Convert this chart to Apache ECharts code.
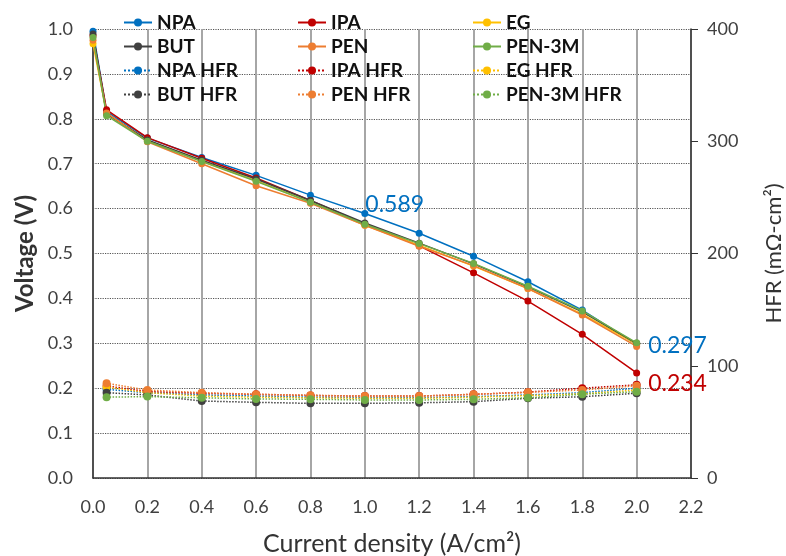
<!DOCTYPE html>
<html lang="en">

<head>
  <meta charset="UTF-8">
  <title>Polarization and HFR</title>
  <style>
    * {
      margin: 0;
      padding: 0;
      box-sizing: border-box;
    }

    body {
      background-color: #fff;
    }

    .chart {
      width: 786px;
      height: 556px;
    }
  </style>
</head>

<body>
  <div id="chart" class="chart"></div>
  <script src="https://cdn.jsdelivr.net/npm/echarts@6/dist/echarts.min.js"></script>
  <script>
    // current density (A/cm2)
    const currentDensity = [0, 0.05, 0.2, 0.4, 0.6, 0.8, 1.0, 1.2, 1.4, 1.6, 1.8, 2.0]
    const hfrDensity = [0.05, 0.2, 0.4, 0.6, 0.8, 1.0, 1.2, 1.4, 1.6, 1.8, 2.0]

    // voltage (V)
    const npaV = [0.995, 0.816, 0.757, 0.714, 0.674, 0.630, 0.589, 0.545, 0.494, 0.437, 0.374, 0.297]
    const ipaV = [0.985, 0.820, 0.758, 0.712, 0.668, 0.618, 0.566, 0.517, 0.457, 0.394, 0.320, 0.234]
    const egV = [0.967, 0.812, 0.752, 0.706, 0.662, 0.615, 0.563, 0.518, 0.472, 0.422, 0.365, 0.298]
    const butV = [0.989, 0.811, 0.753, 0.708, 0.666, 0.618, 0.568, 0.523, 0.477, 0.426, 0.370, 0.300]
    const penV = [0.975, 0.813, 0.749, 0.700, 0.651, 0.612, 0.563, 0.516, 0.473, 0.422, 0.363, 0.293]
    const pen3mV = [0.981, 0.807, 0.750, 0.705, 0.661, 0.614, 0.565, 0.522, 0.478, 0.427, 0.372, 0.301]

    // HFR (mOhm-cm2)
    const npaHfr = [79, 76, 74, 73, 72, 71.5, 71.5, 72.5, 74, 76, 80]
    const ipaHfr = [82, 77, 75.5, 74.5, 73.5, 73, 73, 74.5, 76.5, 80, 83]
    const egHfr = [81, 76, 73, 72, 71.5, 71, 71, 72, 73.5, 75, 78.4]
    const butHfr = [76, 74, 68.6, 67.4, 66.5, 66.5, 67, 68, 71, 72.4, 75.5]
    const penHfr = [84.4, 78.4, 76, 74.6, 73.7, 73, 73, 74.6, 76.3, 78.4, 82.2]
    const pen3mHfr = [72, 72.5, 71.5, 70.4, 70.1, 69.5, 69.5, 70.1, 71.5, 74.6, 76.9]

    const names = ['NPA', 'IPA', 'EG', 'BUT', 'PEN', 'PEN-3M']
    const colors = ['#0070C0', '#C00000', '#FFC000', '#404040', '#ED7D31', '#70AD47']
    const voltages = [npaV, ipaV, egV, butV, penV, pen3mV]
    const hfrs = [npaHfr, ipaHfr, egHfr, butHfr, penHfr, pen3mHfr]

    const font = 'Lato, "Open Sans", sans-serif'

    // labels shown on a few points
    const callouts = [
      { series: 'NPA', x: 1.0, color: '#0070C0', offset: [-5, -9] },
      { series: 'NPA', x: 2.0, color: '#0070C0', offset: [6, 1] },
      { series: 'IPA', x: 2.0, color: '#C00000', offset: [6, 11] }
    ]

    function buildData(name, xs, ys) {
      return xs.map(function (x, i) {
        const c = callouts.find(function (o) { return o.series === name && o.x === x })
        if (!c) return [x, ys[i]]
        return {
          value: [x, ys[i]],
          label: {
            show: true,
            position: 'right',
            distance: 2,
            offset: c.offset,
            color: c.color,
            fontSize: 23,
            fontFamily: font,
            formatter: function (p) { return p.value[1].toFixed(3) }
          }
        }
      })
    }

    const series = []
    names.forEach(function (n, i) {
      series.push({
        name: n,
        type: 'line',
        data: buildData(n, currentDensity, voltages[i]),
        symbol: 'circle',
        symbolSize: 7,
        color: colors[i],
        lineStyle: { width: 1.5 },
        z: 3
      })
    })
    names.forEach(function (n, i) {
      series.push({
        name: n + ' HFR',
        type: 'line',
        yAxisIndex: 1,
        data: buildData(n + ' HFR', hfrDensity, hfrs[i]),
        symbol: 'circle',
        symbolSize: 8,
        color: colors[i],
        lineStyle: { width: 1.5, type: 'dotted' },
        z: 2
      })
    })

    function legendCol(left, items) {
      return {
        orient: 'vertical',
        left: left,
        top: 8,
        itemWidth: 28,
        itemHeight: 10,
        itemGap: 5,
        data: items,
        textStyle: {
          fontFamily: font,
          fontWeight: 'bold',
          fontSize: 19,
          color: '#111'
        }
      }
    }

    const chart = echarts.init(document.querySelector('#chart'))
    const options = {
      animation: false,
      textStyle: { fontFamily: font },
      legend: [
        legendCol(118, ['NPA', 'BUT', 'NPA HFR', 'BUT HFR']),
        legendCol(292, ['IPA', 'PEN', 'IPA HFR', 'PEN HFR']),
        legendCol(467, ['EG', 'PEN-3M', 'EG HFR', 'PEN-3M HFR'])
      ],
      grid: {
        left: 93,
        right: 95,
        top: 29,
        bottom: 78,
        containLabel: false,
        outerBoundsMode: 'none'
      },
      xAxis: {
        type: 'value',
        min: 0,
        max: 2.2,
        interval: 0.2,
        name: 'Current density (A/cm²)',
        nameLocation: 'middle',
        nameGap: 53,
        nameTextStyle: { fontSize: 25, color: '#333', fontFamily: font },
        axisLine: { lineStyle: { color: '#333', width: 1.5 } },
        axisTick: { show: false },
        axisLabel: {
          fontSize: 18,
          color: '#404040',
          margin: 20,
          formatter: function (v) { return v.toFixed(1) }
        },
        splitLine: { show: true, lineStyle: { color: '#a6a6a6', width: 2 } }
      },
      yAxis: [
        {
          type: 'value',
          min: 0,
          max: 1,
          interval: 0.1,
          name: 'Voltage (V)',
          nameLocation: 'middle',
          nameGap: 51,
          nameTextStyle: { fontSize: 24, fontWeight: 'bold', color: '#333', fontFamily: font },
          axisLine: { show: true, lineStyle: { color: '#333', width: 1.5 } },
          axisTick: { show: false },
          axisLabel: {
            fontSize: 18,
            color: '#404040',
            margin: 20,
            formatter: function (v) { return v.toFixed(1) }
          },
          splitLine: { show: true, lineStyle: { color: '#555', type: 'dotted', width: 1.2 } }
        },
        {
          type: 'value',
          min: 0,
          max: 400,
          interval: 100,
          position: 'right',
          name: 'HFR (mΩ-cm²)',
          nameLocation: 'middle',
          nameGap: 72,
          nameRotate: 90,
          nameTextStyle: { fontSize: 22, color: '#333', fontFamily: font },
          axisLine: { show: true, lineStyle: { color: '#333', width: 1.5 } },
          axisTick: { show: true, length: 7, lineStyle: { color: '#333' } },
          axisLabel: { fontSize: 18, color: '#404040', margin: 16 },
          splitLine: { show: false }
        }
      ],
      series: series
    }

    chart.setOption(options)
  </script>
</body>

</html>
